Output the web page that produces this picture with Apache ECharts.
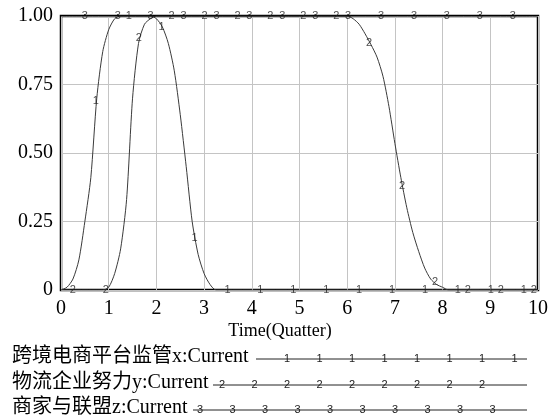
<!DOCTYPE html>
<html>
<head>
<meta charset="utf-8">
<script src="https://cdn.jsdelivr.net/npm/echarts@6/dist/echarts.min.js"></script>
<style>
html,body{margin:0;padding:0;background:#fff;}
#chart{width:553px;height:417px;}
</style>
</head>
<body>
<div id="chart"></div>
<script>
// ---- data (time in quarters, value 0..1) ----
var seriesNames = ['跨境电商平台监管x:Current', '物流企业努力y:Current', '商家与联盟z:Current'];
var markerDigits = ['1', '2', '3'];
var xTicks = [0, 1, 2, 3, 4, 5, 6, 7, 8, 9, 10];
var yTickLabels = ['0', '0.25', '0.50', '0.75', '1.00'];
var xAxisTitle = 'Time(Quatter)';

var seriesX = [[0,0],[0.125,0.01],[0.25,0.04],[0.375,0.11],[0.5,0.25],[0.625,0.41],[0.75,0.70],[0.875,0.87],[1.0,0.95],[1.125,0.99],[1.25,1],[1.875,1],[2.0,0.99],[2.125,0.96],[2.25,0.9],[2.375,0.8],[2.5,0.64],[2.625,0.45],[2.75,0.25],[2.875,0.13],[3.0,0.06],[3.125,0.02],[3.25,0],[10,0]];
var seriesY = [[0,0],[0.875,0],[1.0,0.01],[1.125,0.06],[1.25,0.15],[1.375,0.33],[1.5,0.70],[1.625,0.90],[1.75,0.97],[1.875,0.99],[2.0,1],[6.0,1],[6.125,0.99],[6.25,0.97],[6.375,0.935],[6.5,0.895],[6.625,0.85],[6.75,0.78],[6.875,0.67],[7.0,0.535],[7.125,0.41],[7.25,0.30],[7.375,0.21],[7.5,0.14],[7.625,0.08],[7.75,0.04],[7.875,0.02],[8.0,0.01],[8.125,0],[10,0]];
var seriesZ = [[0,1],[10,1]];

var markersX = [[0.73,0.69],[1.42,1],[2.11,0.96],[2.80,0.19],[3.49,0],[4.18,0],[4.87,0],[5.56,0],[6.25,0],[6.94,0],[7.63,0],[8.32,0],[9.01,0],[9.70,0]];
var markersY = [[0.25,0],[0.94,0],[1.63,0.92],[2.32,1],[3.01,1],[3.70,1],[4.39,1],[5.08,1],[5.77,1],[6.46,0.90],[7.15,0.38],[7.84,0.03],[8.53,0],[9.22,0],[9.91,0]];
var markersZ = [[0.50,1],[1.19,1],[1.88,1],[2.57,1],[3.26,1],[3.95,1],[4.64,1],[5.33,1],[6.02,1],[6.71,1],[7.40,1],[8.09,1],[8.78,1],[9.47,1]];

// ---- styling / layout ----
var serif = '"Liberation Serif", "Times New Roman", "Noto Sans CJK SC", serif';
var markFont = '"Liberation Sans", "DejaVu Sans", sans-serif';
var lineColor = '#3a3a3a';

function lineSeries(name, data, color) {
  return {
    name: name, type: 'line', data: data, symbol: 'none',
    smooth: 0.25,
    lineStyle: { color: color, width: 1 }, silent: true, animation: false, z: 3
  };
}
function markerSeries(name, data, digit) {
  return {
    name: name + '_m', type: 'scatter', data: data, symbol: 'circle', symbolSize: 0.1,
    itemStyle: { color: 'rgba(0,0,0,0)' },
    label: { show: true, position: 'inside', formatter: digit, color: '#222',
             fontSize: 11, fontFamily: markFont },
    silent: true, animation: false, z: 4
  };
}

// legend drawn as graphics (text, then a line with digit markers)
var legendRows = [
  { y: 357, lineStart: 256, marks: [287, 319.5, 352, 384.5, 417, 449.5, 482, 514.5] },
  { y: 383, lineStart: 213, marks: [222, 254.5, 287, 319.5, 352, 384.5, 417, 449.5, 482] },
  { y: 408, lineStart: 193, marks: [200, 232.5, 265, 297.5, 330, 362.5, 395, 427.5, 460, 492.5] }
];
var legendLineEnd = 527;
var graphics = [];
graphics.push({ type: 'text', style: { text: xAxisTitle, x: 280, y: 331, font: '18px ' + serif, fill: '#000', textAlign: 'center', textVerticalAlign: 'middle' } });
legendRows.forEach(function (r, i) {
  graphics.push({ type: 'text', style: { text: seriesNames[i], x: 12, y: r.y, font: '20px ' + serif, fill: '#000', textVerticalAlign: 'middle' } });
  graphics.push({ type: 'line', shape: { x1: r.lineStart, y1: r.y + 2, x2: legendLineEnd, y2: r.y + 2 }, style: { stroke: '#222', lineWidth: 1 } });
  r.marks.forEach(function (mx) {
    graphics.push({ type: 'text', style: { text: markerDigits[i], x: mx, y: r.y + 2, font: '11px ' + markFont, fill: '#222', textAlign: 'center', textVerticalAlign: 'middle' } });
  });
});

var chart = echarts.init(document.getElementById('chart'), null, { renderer: 'canvas' });
chart.setOption({
  animation: false,
  backgroundColor: '#fff',
  grid: { left: 61, top: 16, width: 477, height: 274, show: true, borderColor: '#000', borderWidth: 2.5, backgroundColor: 'transparent' },
  xAxis: {
    type: 'value', min: 0, max: 10, interval: 1,
    axisLine: { show: false }, axisTick: { show: false },
    splitLine: { show: true, lineStyle: { color: '#c4c4c4', width: 1 } },
    axisLabel: { margin: 9, fontSize: 20, fontFamily: serif, color: '#000',
                 formatter: function (v) { return xTicks.indexOf(v) >= 0 ? String(v) : ''; } }
  },
  yAxis: {
    type: 'value', min: 0, max: 1, interval: 0.25,
    axisLine: { show: false }, axisTick: { show: false },
    splitLine: { show: true, lineStyle: { color: '#c4c4c4', width: 1 } },
    axisLabel: { margin: 8, fontSize: 20, fontFamily: serif, color: '#000',
                 formatter: function (v) { return yTickLabels[Math.round(v / 0.25)]; } }
  },
  series: [
    lineSeries(seriesNames[0], seriesX, lineColor),
    lineSeries(seriesNames[1], seriesY, lineColor),
    lineSeries(seriesNames[2], seriesZ, '#000'),
    markerSeries(seriesNames[0], markersX, markerDigits[0]),
    markerSeries(seriesNames[1], markersY, markerDigits[1]),
    markerSeries(seriesNames[2], markersZ, markerDigits[2])
  ],
  graphic: graphics
});
</script>
</body>
</html>
